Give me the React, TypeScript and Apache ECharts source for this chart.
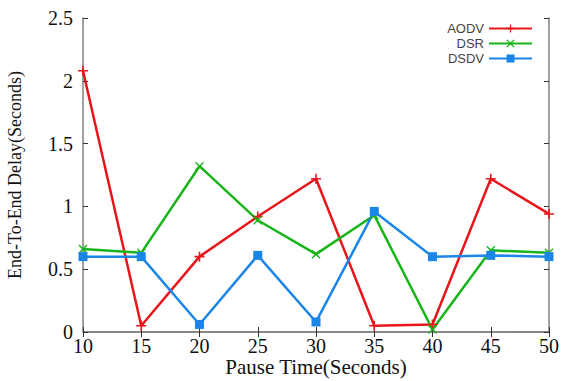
import React, { useEffect, useRef } from "react";
import * as echarts from "echarts";

const pauseTimes = [10, 15, 20, 25, 30, 35, 40, 45, 50];
const aodv = [2.08, 0.05, 0.6, 0.92, 1.22, 0.05, 0.06, 1.22, 0.94];
const dsr = [0.66, 0.63, 1.32, 0.89, 0.62, 0.93, 0.02, 0.65, 0.63];
const dsdv = [0.6, 0.6, 0.06, 0.61, 0.08, 0.96, 0.6, 0.61, 0.6];

const plusPath = "path://M-0.8,-5h1.6v4.2h4.2v1.6h-4.2v4.2h-1.6v-4.2h-4.2v-1.6h4.2z";
const crossPath =
  "path://M-4,-5L0,-1.2L4,-5L5,-4L1.2,0L5,4L4,5L0,1.2L-4,5L-5,4L-1.2,0L-5,-4z";

export default function App() {
  const ref = useRef<HTMLDivElement>(null);
  useEffect(() => {
    if (!ref.current) return;
    const chart = echarts.init(ref.current, null, { renderer: "svg" });
    const serif = "'Liberation Serif', 'DejaVu Serif', serif";
    const axisLine = { show: true, lineStyle: { color: "#808080", width: 1.5 } };
    const tick = { show: true, inside: true, length: 5, lineStyle: { color: "#333" } };
    const mk = (name: string, data: number[], color: string, symbol: string, size: number) => ({
      name,
      type: "line",
      data: pauseTimes.map((t, i) => [t, data[i]]),
      symbol,
      symbolSize: size,
      showSymbol: true,
      lineStyle: { color, width: 2.5 },
      itemStyle: { color },
      xAxisIndex: 0,
      yAxisIndex: 0,
    });
    chart.setOption({
      animation: false,
      backgroundColor: "#fff",
      grid: { left: 83, right: 13, top: 18, bottom: 49, outerBoundsMode: "none", containLabel: false },
      legend: {
        orient: "vertical",
        right: 24,
        top: 17,
        align: "right",
        itemWidth: 43,
        itemHeight: 10,
        itemGap: 2,
        textStyle: { fontFamily: "'Liberation Sans', Arial, sans-serif", fontSize: 13, color: "#444" },
        data: ["AODV", "DSR", "DSDV"],
      },
      xAxis: [
        {
          type: "value",
          min: 10,
          max: 50,
          interval: 5,
          position: "bottom",
          axisLine,
          axisTick: tick,
          splitLine: { show: false },
          axisLabel: { fontFamily: serif, fontSize: 20, lineHeight: 17, color: "#111", margin: 5 },
          name: "Pause Time(Seconds)",
          nameLocation: "middle",
          nameGap: 25,
          nameMoveOverlap: false,
          nameTextStyle: { fontFamily: serif, fontSize: 21, lineHeight: 20, color: "#111" },
        },
        {
          type: "value",
          min: 10,
          max: 50,
          interval: 5,
          position: "top",
          axisLine,
          axisTick: tick,
          splitLine: { show: false },
          axisLabel: { show: false },
        },
      ],
      yAxis: [
        {
          type: "value",
          min: 0,
          max: 2.5,
          interval: 0.5,
          position: "left",
          axisLine,
          axisTick: tick,
          splitLine: { show: false },
          axisLabel: { fontFamily: serif, fontSize: 20, color: "#111", margin: 10 },
          name: "End-To-End Delay(Seconds)",
          nameLocation: "middle",
          nameGap: 59,
          nameMoveOverlap: false,
          nameTextStyle: { fontFamily: serif, fontSize: 18, color: "#111" },
        },
        {
          type: "value",
          min: 0,
          max: 2.5,
          interval: 0.5,
          position: "right",
          axisLine,
          axisTick: tick,
          splitLine: { show: false },
          axisLabel: { show: false },
        },
      ],
      series: [
        mk("AODV", aodv, "#e8161b", plusPath, 10),
        mk("DSR", dsr, "#17b51a", crossPath, 9),
        mk("DSDV", dsdv, "#1a86e8", "rect", 9),
      ],
    });
    return () => chart.dispose();
  }, []);
  return <div ref={ref} style={{ width: 562, height: 381, position: "absolute", left: 0, top: 0 }} />;
}
